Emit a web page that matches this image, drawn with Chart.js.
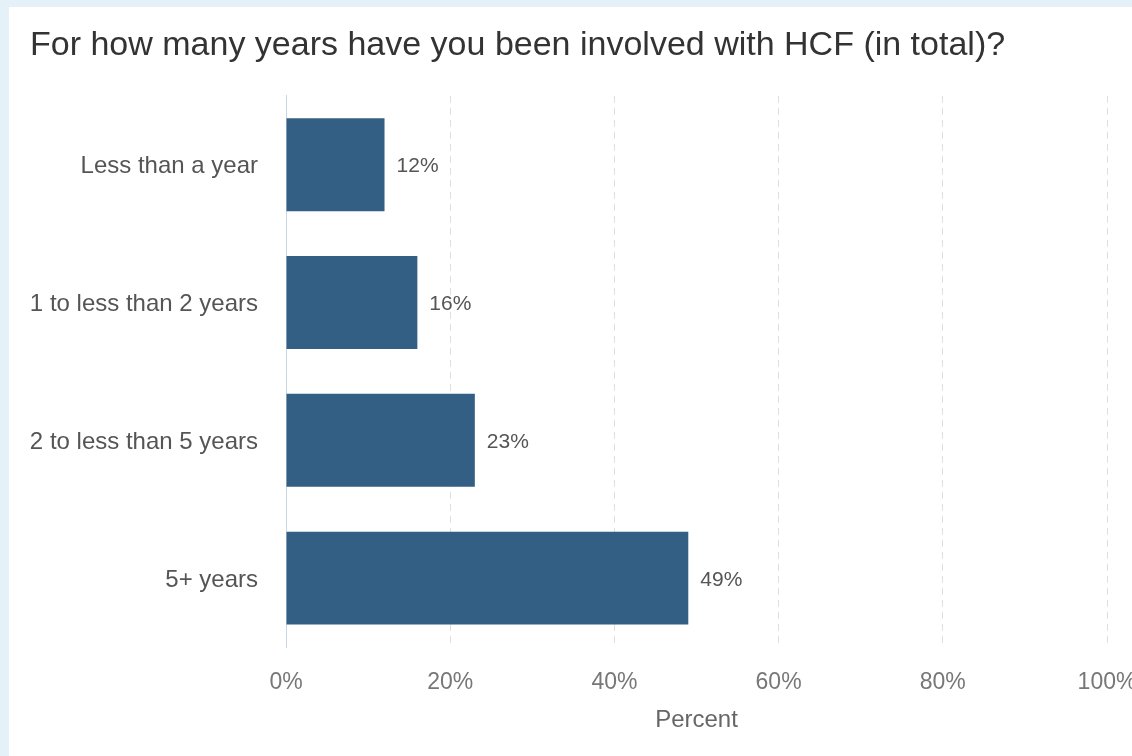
<!DOCTYPE html>
<html>
<head>
<meta charset="utf-8">
<script src="https://cdn.jsdelivr.net/npm/chart.js@4.4.1/dist/chart.umd.min.js"></script>
<style>
  html, body { margin: 0; padding: 0; }
  body { width: 1132px; height: 756px; background: #e4f1f8; overflow: hidden; position: relative; }
  #panel { position: absolute; left: 9px; top: 7px; width: 1160px; height: 749px; background: #fff; }
</style>
</head>
<body>
<div id="panel"><canvas id="chart" width="1160" height="749"></canvas></div>
<script>
const titleText = "For how many years have you been involved with HCF (in total)?";
const categories = ["Less than a year", "1 to less than 2 years", "2 to less than 5 years", "5+ years"];
const percents = [12, 16, 23, 49];
const xTicks = [0, 20, 40, 60, 80, 100];

const barColor = "#335f84";
const font = "Liberation Sans, Arial, sans-serif";

// value labels drawn just past the end of each bar
const valueLabels = {
    id: "valueLabels",
    afterDatasetsDraw(chart) {
        const ctx = chart.ctx;
        const meta = chart.getDatasetMeta(0);
        ctx.save();
        ctx.font = "21px " + font;
        ctx.fillStyle = "#555";
        ctx.textAlign = "left";
        ctx.textBaseline = "middle";
        meta.data.forEach((bar, i) => {
            ctx.fillText(percents[i] + "%", bar.x + 12, bar.y + 2);
        });
        ctx.restore();
    },
};

new Chart(document.getElementById("chart"), {
    type: "bar",
    data: {
        labels: categories,
        datasets: [
            {
                data: percents,
                backgroundColor: barColor,
                borderWidth: 0,
                barPercentage: 0.674,
                categoryPercentage: 1,
            },
        ],
    },
    options: {
        indexAxis: "y",
        responsive: false,
        animation: false,
        layout: { padding: { left: 21, right: 62, top: 0, bottom: 0 } },
        plugins: {
            legend: { display: false },
            tooltip: { enabled: false },
            title: {
                display: true,
                text: titleText,
                align: "start",
                color: "#333",
                font: { family: font, size: 34, weight: "normal" },
                padding: { top: 18, bottom: 30 },
            },
        },
        scales: {
            x: {
                min: 0,
                max: 100,
                afterBuildTicks: (s) => { s.ticks = xTicks.map((v) => ({ value: v })); },
                afterFit: (s) => { s.height = 109; },
                ticks: {
                    callback: (v) => v + "%",
                    color: "#777",
                    font: { family: font, size: 23 },
                    padding: 22,
                    maxRotation: 0,
                },
                grid: {
                    drawTicks: false,
                    color: (c) => (c.index === 0 ? "rgba(0,0,0,0)" : "#dedede"),
                    lineWidth: 1,
                },
                border: { display: false, dash: [7, 5] },
                title: {
                    display: true,
                    text: "Percent",
                    color: "#666",
                    font: { family: font, size: 24 },
                    padding: { top: 12, bottom: 21 },
                },
            },
            y: {
                afterFit: (s) => { s.width = 256; },
                ticks: {
                    color: "#555",
                    font: { family: font, size: 24 },
                    padding: 28,
                    labelOffset: 2,
                },
                grid: { display: false, drawTicks: false },
                border: { display: true, color: "#c8d6e6", width: 1 },
            },
        },
    },
    plugins: [valueLabels],
});
</script>
</body>
</html>
